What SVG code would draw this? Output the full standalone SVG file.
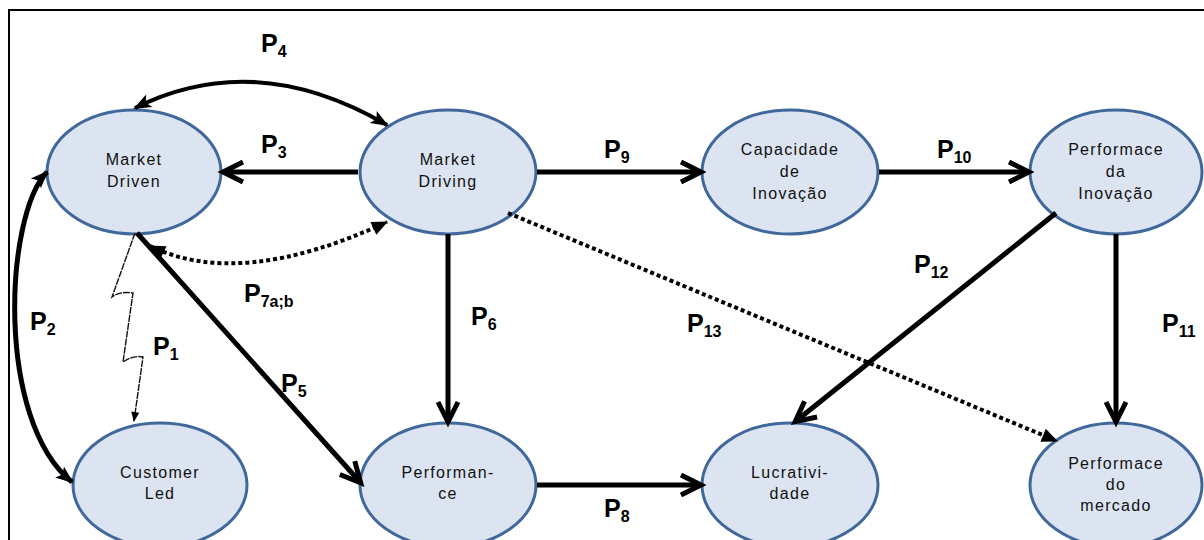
<svg xmlns="http://www.w3.org/2000/svg" width="1204" height="540" viewBox="0 0 1204 540">
<style>
.node ellipse{fill:#dbe4f0;stroke:#41689a;stroke-width:3}
.node text{font-family:"Liberation Sans",Arial,sans-serif;font-size:16px;letter-spacing:1.3px;fill:#111;text-anchor:middle}
.c{fill:none;stroke:#000;stroke-width:5}
.dot{fill:none;stroke:#000;stroke-width:4;stroke-dasharray:4 3}
.thin{fill:none;stroke:#111;stroke-width:1.4;stroke-dasharray:7 1}
.lbl{font-family:"Liberation Sans",Arial,sans-serif;font-weight:bold;font-size:25px;fill:#000}
.sub{font-size:16px}
</style>
<defs>
<marker id="chev" viewBox="-2 -2 26 26" markerUnits="userSpaceOnUse" markerWidth="26" markerHeight="26" refX="19" refY="10" orient="auto" overflow="visible">
<path d="M0,0 L20,10 L0,20" fill="none" stroke="#000" stroke-width="5" stroke-linejoin="miter"/>
</marker>
<marker id="tri" viewBox="0 0 16 14" markerUnits="userSpaceOnUse" markerWidth="16" markerHeight="14" refX="15" refY="7" orient="auto-start-reverse" overflow="visible">
<path d="M0,0 L16,7 L0,14 z" fill="#000"/>
</marker>
<marker id="stealth" viewBox="0 0 18 14" markerUnits="userSpaceOnUse" markerWidth="18" markerHeight="14" refX="16" refY="7" orient="auto-start-reverse" overflow="visible">
<path d="M0,0 L18,7 L0,14 L4,7 z" fill="#000"/>
</marker>
<marker id="small" viewBox="0 0 10 8" markerUnits="userSpaceOnUse" markerWidth="10" markerHeight="8" refX="9" refY="4" orient="auto" overflow="visible">
<path d="M0,0 L10,4 L0,8 z" fill="#000"/>
</marker>
</defs>
<rect x="9" y="10" width="1200" height="540" fill="#fff" stroke="#000" stroke-width="2"/>

<g id="n1" class="node"><ellipse cx="134" cy="172" rx="87" ry="62"/><text x="134" y="165">Market</text><text x="134" y="187">Driven</text></g>
<g id="n2" class="node"><ellipse cx="448" cy="172" rx="88" ry="62"/><text x="448" y="165">Market</text><text x="448" y="187">Driving</text></g>
<g id="n3" class="node"><ellipse cx="790" cy="172" rx="88" ry="62"/><text x="790" y="155">Capacidade</text><text x="790" y="177">de</text><text x="790" y="199">Inovação</text></g>
<g id="n4" class="node"><ellipse cx="1116" cy="172" rx="86" ry="62"/><text x="1116" y="155">Performace</text><text x="1116" y="177">da</text><text x="1116" y="199">Inovação</text></g>
<g id="n5" class="node"><ellipse cx="160" cy="485" rx="87" ry="62"/><text x="160" y="478">Customer</text><text x="160" y="499">Led</text></g>
<g id="n6" class="node"><ellipse cx="448" cy="485" rx="88" ry="62"/><text x="448" y="478">Performan-</text><text x="448" y="499">ce</text></g>
<g id="n7" class="node"><ellipse cx="790" cy="485" rx="88" ry="62"/><text x="790" y="478">Lucrativi-</text><text x="790" y="499">dade</text></g>
<g id="n8" class="node"><ellipse cx="1116" cy="485" rx="86" ry="62"/><text x="1116" y="469">Performace</text><text x="1116" y="490">do</text><text x="1116" y="511">mercado</text></g>

<g id="connectors">
<path class="c" d="M358,172 L224,172" marker-end="url(#chev)"/>
<path class="c" d="M537,172 L700,172" marker-end="url(#chev)"/>
<path class="c" d="M879,172 L1028,172" marker-end="url(#chev)"/>
<path class="c" d="M448,234 L448,421" marker-end="url(#chev)"/>
<path class="c" d="M1116,234 L1116,421" marker-end="url(#chev)"/>
<path class="c" d="M537,485 L700,485" marker-end="url(#chev)"/>
<path class="c" d="M137,233 L360,482" marker-end="url(#chev)"/>
<path class="c" d="M1056,213 L796,421" marker-end="url(#chev)"/>
<path class="c" style="stroke-width:4" d="M135,108 Q255,48 387,125" marker-start="url(#stealth)" marker-end="url(#stealth)"/>
<path class="c" d="M47,172 C5,215 -5,420 72,482" marker-start="url(#stealth)" marker-end="url(#stealth)"/>
<path class="dot" d="M150,246 Q240,290 387,222" marker-start="url(#tri)" marker-end="url(#tri)"/>
<path class="dot" d="M508,213 L1057,441" marker-end="url(#tri)"/>
<path class="thin" d="M135,233 L112,297 Q120,291 133,293 L123,362 Q133,355 143,357 L134,421" marker-end="url(#small)"/>
</g>

<g id="labels">
<text class="lbl" x="261" y="52">P<tspan class="sub" dy="5">4</tspan></text>
<text class="lbl" x="261" y="153">P<tspan class="sub" dy="5">3</tspan></text>
<text class="lbl" x="604" y="158">P<tspan class="sub" dy="5">9</tspan></text>
<text class="lbl" x="937" y="158">P<tspan class="sub" dy="5">10</tspan></text>
<text class="lbl" x="471" y="325">P<tspan class="sub" dy="5">6</tspan></text>
<text class="lbl" x="687" y="332">P<tspan class="sub" dy="5">13</tspan></text>
<text class="lbl" x="604" y="517">P<tspan class="sub" dy="5">8</tspan></text>
<text class="lbl" x="244" y="302">P<tspan class="sub" dy="5">7a;b</tspan></text>
<text class="lbl" x="30" y="330">P<tspan class="sub" dy="5">2</tspan></text>
<text class="lbl" x="153" y="355">P<tspan class="sub" dy="5">1</tspan></text>
<text class="lbl" x="281" y="392">P<tspan class="sub" dy="5">5</tspan></text>
<text class="lbl" x="914" y="273">P<tspan class="sub" dy="5">12</tspan></text>
<text class="lbl" x="1162" y="332">P<tspan class="sub" dy="5">11</tspan></text>
</g>
</svg>
